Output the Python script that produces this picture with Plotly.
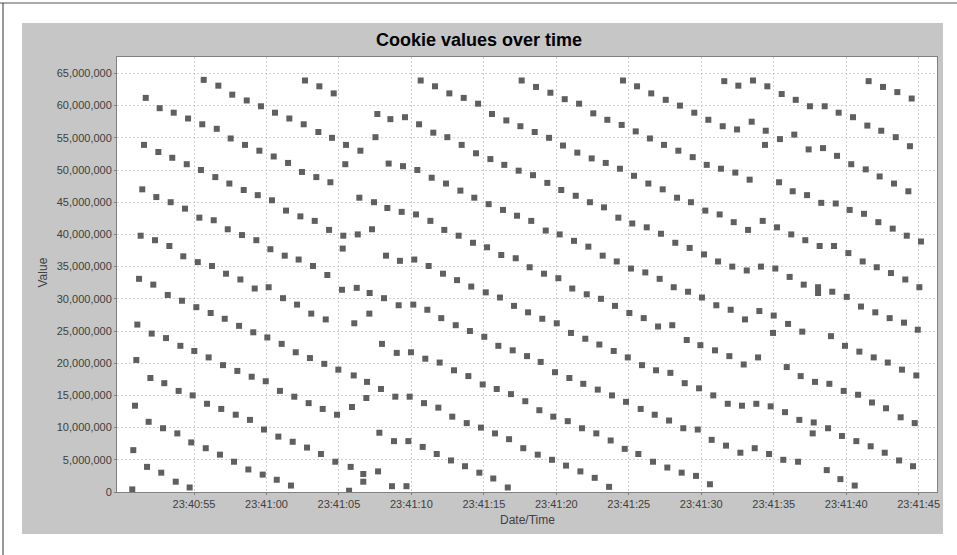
import plotly.graph_objects as go
import pandas as pd

# Observation times: seconds after 23:40:00 ; values: millions
t1 = [50.74, 50.81, 50.93, 51.02, 51.09, 51.21, 51.32, 51.43, 51.55, 51.67,
      51.76, 51.87, 51.99, 52.08, 52.19, 52.31, 52.40, 52.54, 52.63,
      52.74, 52.86, 52.95, 53.07, 53.19, 53.30, 53.39, 53.50, 53.60,
      53.74, 53.85, 53.94, 54.06, 54.17, 54.26, 54.38, 54.50, 54.59,
      54.70, 54.81, 54.91, 55.02, 55.16, 55.26, 55.37, 55.48, 55.57, 55.67,
      55.81, 55.90, 56.01, 56.15, 56.24, 56.36, 56.47, 56.57, 56.68,
      56.79, 56.88, 57.00, 57.12, 57.21, 57.33, 57.44, 57.53, 57.64,
      57.76, 57.88, 57.99, 58.11, 58.20, 58.31, 58.43, 58.52, 58.64,
      58.75, 58.86, 58.98, 59.09, 59.19, 59.30, 59.40, 59.51, 59.62,
      59.74, 59.83, 59.95, 60.06, 60.15, 60.27, 60.38, 60.50, 60.59]
v1 = [0.4, 6.5, 13.4, 20.5, 26.0, 33.1, 39.8, 47.0, 53.9, 61.2,
      3.9, 10.9, 17.7, 24.6, 32.2, 39.1, 45.8, 52.8, 59.6,
      3.0, 9.9, 16.9, 23.9, 30.6, 38.2, 45.0, 51.9, 58.9,
      1.6, 9.1, 15.7, 22.7, 29.7, 36.6, 44.0, 50.9, 58.0,
      0.7, 7.7, 15.0, 21.9, 28.7, 35.7, 42.6, 50.0, 57.1, 64.0,
      6.8, 13.7, 20.9, 27.8, 35.1, 42.2, 48.9, 56.4, 63.1,
      5.8, 12.9, 19.7, 26.9, 33.9, 40.8, 47.9, 54.9, 61.7,
      4.7, 12.0, 18.8, 25.8, 33.0, 39.9, 46.9, 53.9, 60.8,
      3.5, 11.2, 17.9, 24.8, 31.6, 39.1, 46.1, 53.0, 59.9,
      2.7, 9.7, 17.2, 24.0, 31.8, 37.7, 45.3, 52.1, 58.9]

t2 = [60.71, 60.82, 60.93, 61.05, 61.14, 61.26, 61.35, 61.49, 61.58,
      61.69, 61.81, 61.92, 62.02, 62.11, 62.22, 62.34, 62.45, 62.57, 62.66,
      62.80, 62.91, 63.00, 63.09, 63.21, 63.33, 63.44, 63.58, 63.65,
      63.76, 63.88, 63.99, 64.09, 64.20, 64.32, 64.41, 64.52, 64.64,
      64.75, 64.87, 64.96, 65.21, 65.26, 65.30, 65.44, 65.49,
      65.70, 65.81, 65.90, 66.02, 66.06, 66.23, 66.30, 66.41, 66.48,
      66.68, 66.68, 66.89, 66.94, 67.10, 67.12, 67.28, 67.42, 67.52, 67.65, 67.70,
      67.79, 67.90, 67.97, 68.11, 68.25, 68.34, 68.43, 68.55, 68.66,
      68.80, 68.89, 68.99, 69.12, 69.21, 69.33, 69.42, 69.56, 69.66,
      69.79, 69.88, 69.97, 70.13, 70.20, 70.32, 70.41, 70.53, 70.64]
v2 = [1.9, 8.6, 15.7, 23.0, 30.1, 36.7, 43.7, 51.1, 58.0,
      1.0, 7.8, 14.8, 21.7, 29.1, 36.1, 42.8, 49.7, 57.1, 63.9,
      6.9, 13.8, 20.8, 27.7, 35.1, 42.1, 48.9, 55.9, 63.0,
      5.9, 12.9, 19.9, 26.8, 33.7, 40.7, 48.1, 55.0, 61.9,
      4.7, 12.0, 19.0, 31.4, 37.8, 39.8, 50.9, 53.9,
      0.2, 3.9, 13.2, 18.1, 26.2, 31.7, 40.0, 45.7, 53.0,
      2.8, 1.6, 14.6, 17.1, 27.7, 30.9, 40.8, 45.0, 55.1, 58.7, 3.2,
      9.2, 16.0, 23.0, 30.1, 36.7, 44.1, 51.0, 57.9, 0.9,
      7.9, 14.8, 21.6, 29.0, 35.9, 43.5, 50.6, 58.2, 0.9,
      7.9, 14.8, 21.7, 29.1, 36.1, 43.1, 50.0, 57.1, 63.9]

t3 = [70.78, 70.87, 70.96, 71.10, 71.19, 71.31, 71.40, 71.51, 71.63,
      71.75, 71.86, 71.95, 72.06, 72.18, 72.27, 72.39, 72.48, 72.62,
      72.73, 72.82, 72.94, 73.06, 73.15, 73.26, 73.38, 73.47, 73.61,
      73.70, 73.82, 73.93, 74.04, 74.13, 74.25, 74.34, 74.46, 74.60,
      74.69, 74.80, 74.92, 75.03, 75.13, 75.22, 75.33, 75.45, 75.56,
      75.65, 75.77, 75.89, 76.00, 76.11, 76.20, 76.32, 76.41, 76.55,
      76.65, 76.74, 76.87, 76.99, 77.08, 77.20, 77.29, 77.40, 77.52, 77.61,
      77.72, 77.86, 77.98, 78.05, 78.16, 78.27, 78.39, 78.51, 78.60,
      78.72, 78.83, 78.92, 79.03, 79.15, 79.27, 79.38, 79.50, 79.59,
      79.70, 79.79, 79.91, 80.03, 80.14, 80.23, 80.34, 80.46, 80.58]
v3 = [7.0, 13.8, 20.7, 28.3, 35.1, 42.1, 48.8, 55.8, 63.0,
      5.9, 13.1, 20.1, 27.0, 33.9, 40.7, 47.9, 55.1, 61.9,
      4.9, 11.7, 18.9, 25.9, 32.9, 39.8, 46.8, 53.9, 61.2,
      4.0, 10.7, 18.0, 25.0, 31.9, 38.7, 45.7, 52.6, 60.3,
      3.0, 10.0, 16.7, 24.1, 31.0, 38.0, 44.7, 51.7, 58.7,
      2.1, 9.1, 16.0, 22.7, 30.2, 36.8, 43.8, 50.8, 57.7,
      0.7, 8.2, 15.2, 22.0, 28.9, 36.3, 42.9, 49.9, 56.8, 63.9,
      6.8, 14.1, 21.1, 27.9, 34.9, 42.1, 49.2, 55.9, 62.9,
      5.8, 12.7, 20.2, 26.9, 33.9, 40.6, 48.0, 55.0, 62.0,
      5.0, 11.7, 18.6, 26.2, 33.2, 40.0, 46.9, 53.8, 61.0]

t4 = [80.67, 80.79, 80.90, 81.01, 81.10, 81.22, 81.34, 81.45, 81.57,
      81.66, 81.77, 81.86, 82.00, 82.10, 82.21, 82.32, 82.44, 82.55,
      82.65, 82.76, 82.86, 82.97, 83.08, 83.20, 83.29, 83.41, 83.52,
      83.64, 83.75, 83.84, 83.96, 84.05, 84.17, 84.28, 84.39, 84.51, 84.60,
      84.72, 84.81, 84.93, 85.04, 85.15, 85.24, 85.36, 85.48, 85.57,
      85.66, 85.82, 85.91, 86.03, 86.14, 86.24, 86.35, 86.46, 86.55,
      86.67, 86.79, 86.88, 87.02, 87.13, 87.22, 87.34, 87.43, 87.55,
      87.66, 87.78, 87.87, 88.00, 88.10, 88.21, 88.33, 88.42, 88.53,
      88.65, 88.76, 88.86, 89.00, 89.09, 89.20, 89.29, 89.41, 89.52,
      89.64, 89.76, 89.85, 89.94, 90.05, 90.19, 90.28, 90.38, 90.49]
v4 = [4.1, 11.0, 17.7, 24.7, 31.6, 39.0, 46.0, 52.7, 60.3,
      3.2, 9.9, 16.8, 23.8, 30.7, 38.1, 45.0, 51.8, 58.8,
      2.2, 9.1, 15.9, 22.9, 30.0, 36.7, 44.2, 51.1, 57.8,
      0.8, 8.0, 15.0, 21.9, 28.9, 35.8, 42.6, 50.2, 57.0, 63.9,
      6.7, 14.0, 20.9, 27.8, 34.7, 41.7, 49.1, 56.0, 63.0,
      5.9, 12.9, 19.7, 27.0, 34.1, 41.1, 47.9, 54.9, 61.9,
      4.7, 12.0, 18.9, 25.7, 33.1, 40.1, 47.0, 53.9, 60.9,
      3.8, 11.1, 18.5, 25.9, 31.8, 38.7, 45.7, 53.0, 60.0,
      3.0, 9.9, 16.9, 23.6, 31.1, 37.9, 45.0, 52.0, 58.9,
      2.5, 9.7, 16.1, 22.8, 30.2, 36.9, 43.7, 50.8, 57.8]

t5 = [90.60, 90.72, 90.83, 90.95, 91.04, 91.16, 91.27, 91.36, 91.48, 91.59,
      91.71, 91.83, 91.94, 92.03, 92.14, 92.24, 92.35, 92.47, 92.56,
      92.70, 92.81, 92.93, 93.02, 93.14, 93.23, 93.34, 93.48, 93.57,
      93.69, 93.80, 93.92, 94.01, 94.12, 94.24, 94.40, 94.45, 94.56,
      94.68, 94.79, 94.95, 95.00, 95.11, 95.23, 95.37, 95.43, 95.55,
      95.66, 95.78, 95.90, 95.99, 96.10, 96.21, 96.31, 96.42, 96.52,
      96.68, 96.77, 96.86, 96.97, 97.07, 97.18, 97.30, 97.41, 97.50,
      97.69, 97.76, 97.85, 98.06, 98.06, 98.17, 98.28, 98.40, 98.52,
      98.66, 98.75, 98.84, 98.95, 99.04, 99.16, 99.28, 99.37, 99.48,
      99.60, 99.71, 99.83, 99.92, 100.04, 100.15, 100.24, 100.35, 100.47]
v5 = [1.2, 8.1, 15.0, 22.0, 29.0, 35.8, 43.1, 50.2, 56.8, 63.8,
      7.2, 13.7, 21.1, 28.3, 35.0, 41.9, 49.6, 56.3, 63.1,
      6.1, 13.4, 19.8, 26.8, 34.4, 40.7, 48.5, 57.5, 63.9,
      6.8, 13.7, 20.9, 28.1, 35.0, 42.1, 53.9, 56.1, 63.0,
      5.9, 13.3, 24.7, 27.4, 34.7, 41.1, 48.1, 54.8, 61.8,
      5.0, 12.4, 19.4, 26.1, 33.4, 40.0, 46.7, 55.5, 60.9,
      4.7, 11.2, 18.0, 24.9, 32.2, 39.1, 46.1, 53.2, 59.9,
      9.1, 10.8, 17.1, 31.8, 30.9, 38.2, 44.9, 53.4, 59.9,
      3.4, 9.9, 16.8, 24.2, 31.1, 38.2, 44.8, 52.2, 58.9,
      2.0, 8.7, 15.7, 22.7, 30.3, 37.1, 43.8, 50.9, 58.2]

t6 = [100.59, 100.70, 100.82, 100.91, 101.02, 101.14, 101.23, 101.35, 101.46, 101.55,
      101.69, 101.78, 101.90, 102.01, 102.11, 102.22, 102.31, 102.42, 102.54,
      102.66, 102.75, 102.87, 103.00, 103.09, 103.21, 103.30, 103.42, 103.53,
      103.65, 103.76, 103.85, 103.99, 104.08, 104.18, 104.29, 104.40, 104.52,
      104.61, 104.73, 104.84, 104.94, 105.05, 105.16]
v6 = [1.0, 7.9, 15.1, 21.8, 28.8, 35.8, 43.2, 50.1, 56.9, 63.8,
      7.1, 13.9, 20.9, 27.9, 34.9, 41.9, 49.0, 56.1, 62.9,
      6.1, 13.0, 20.1, 27.0, 34.0, 40.9, 47.9, 55.1, 62.1,
      4.9, 11.6, 19.0, 26.3, 33.0, 39.8, 46.7, 53.7, 61.1,
      4.0, 10.7, 18.1, 25.2, 31.8, 38.9]

x_tick_labels = ["23:40:55", "23:41:00", "23:41:05", "23:41:10", "23:41:15", "23:41:20",
                 "23:41:25", "23:41:30", "23:41:35", "23:41:40", "23:41:45"]

DAY = "2009-01-01"
BASE = pd.Timestamp(DAY + " 23:40:00")
X_START_SEC = 49.687
X_END_SEC = 106.267
Y_MAX = 67.55e6


def ts(sec):
    return (BASE + pd.Timedelta(seconds=sec)).strftime("%Y-%m-%d %H:%M:%S.%f")


secs = t1 + t2 + t3 + t4 + t5 + t6
vals = v1 + v2 + v3 + v4 + v5 + v6
xs = [ts(s) for s in secs]
ys = [v * 1e6 for v in vals]
tickvals = [DAY + " " + lab for lab in x_tick_labels]

FONT = "Liberation Sans, Arial, sans-serif"

fig = go.Figure(go.Scatter(
    x=xs, y=ys, mode="markers",
    marker=dict(symbol="square", size=6, color="#5f5f5f", line=dict(width=0)),
    hoverinfo="x+y", showlegend=False,
))

# plot area in pixels: x 117..937, y 57..492
L, R, T, B = 117, 20, 57, 63
W, H = 957, 555
PW, PH = W - L - R, H - T - B


def px(x):
    return (x - L) / PW


def py(y):
    return (H - B - y) / PH


axis_common = dict(
    showline=True, mirror=True, linecolor="#808080", linewidth=1,
    ticks="outside", ticklen=2, tickcolor="#808080",
    showgrid=True, gridcolor="#d0d0d0", gridwidth=1, griddash="2px,2px",
    zeroline=False,
    tickfont=dict(family=FONT, size=11, color="#404040"),
)

fig.update_xaxes(
    type="date", range=[ts(X_START_SEC), ts(X_END_SEC)],
    tickmode="array", tickvals=tickvals, ticktext=x_tick_labels,
    **axis_common,
)
fig.update_yaxes(
    range=[0, Y_MAX], tick0=0, dtick=5e6, tickformat=",.0f",
    **axis_common,
)

fig.update_layout(
    width=W, height=H,
    margin=dict(l=L, r=R, t=T, b=B, pad=0),
    paper_bgcolor="white", plot_bgcolor="white",
    shapes=[
        dict(type="rect", xref="paper", yref="paper", layer="below",
             x0=px(22), x1=px(943), y0=py(534), y1=py(23),
             fillcolor="#c6c6c6", line=dict(width=0)),
        dict(type="rect", xref="paper", yref="paper", layer="below",
             x0=0, x1=1, y0=0, y1=1, fillcolor="white", line=dict(width=0)),
        dict(type="line", xref="paper", yref="paper",
             x0=px(0), x1=px(957), y0=py(3), y1=py(3),
             line=dict(color="#555555", width=1)),
        dict(type="line", xref="paper", yref="paper",
             x0=px(3), x1=px(3), y0=py(3), y1=py(555),
             line=dict(color="#333333", width=1)),
    ],
    annotations=[
        dict(text="<b>Cookie values over time</b>", xref="paper", yref="paper",
             x=px(479), y=py(40), xanchor="center", yanchor="middle", showarrow=False,
             font=dict(family=FONT, size=18, color="#000000")),
        dict(text="Date/Time", xref="paper", yref="paper",
             x=px(527), y=py(520), xanchor="center", yanchor="middle", showarrow=False,
             font=dict(family=FONT, size=12, color="#404040")),
        dict(text="Value", xref="paper", yref="paper", textangle=-90,
             x=px(42.5), y=py(273), xanchor="center", yanchor="middle", showarrow=False,
             font=dict(family=FONT, size=12, color="#404040")),
    ],
)

fig.write_html("out.html",
               config={"displayModeBar": False},
               post_script="document.body.style.margin='0px';document.body.style.padding='0px';")
